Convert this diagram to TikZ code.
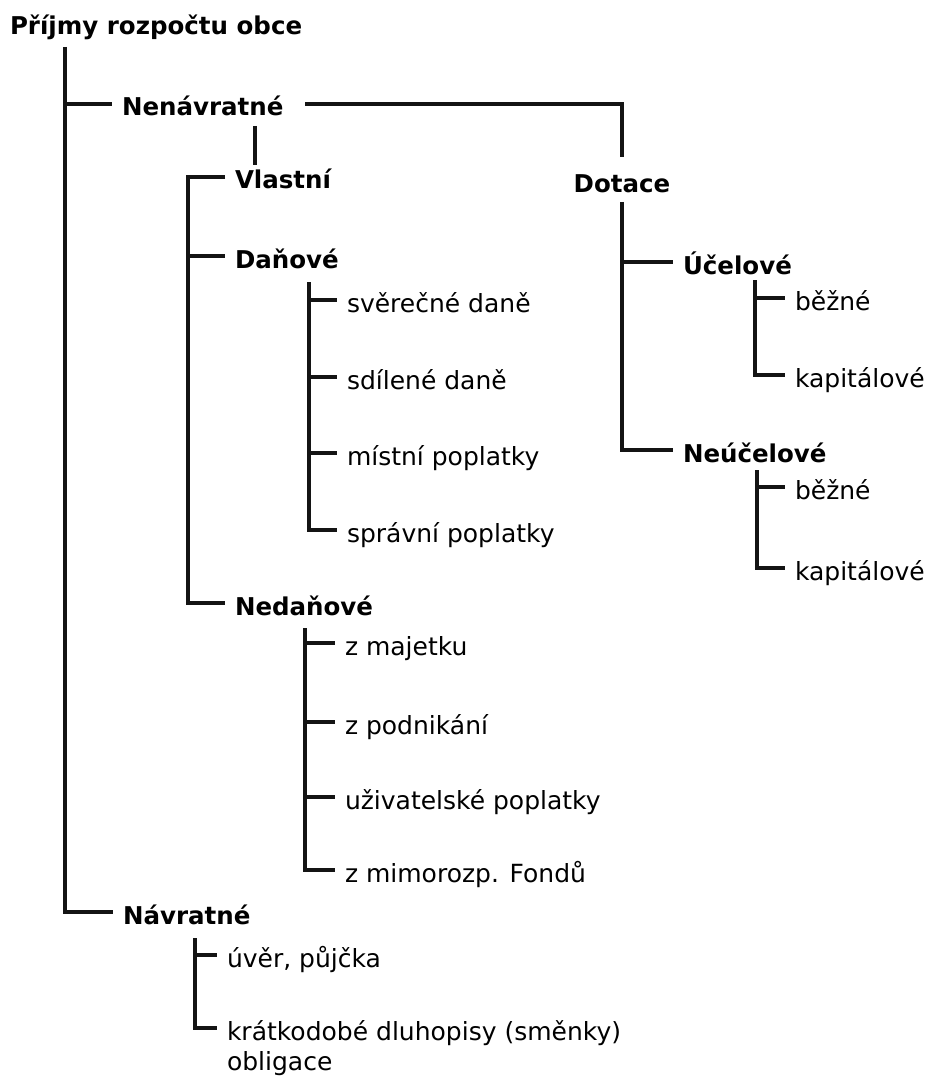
\documentclass[tikz,border=0pt]{standalone}
\usepackage{fontspec}
\setmainfont{DejaVu Sans}
\begin{document}
\begin{tikzpicture}[x=1pt,y=-1pt,
  lbl/.style={anchor=base west, inner sep=0pt, outer sep=0pt, text height=24pt, text depth=0pt,
              font=\fontsize{25}{28}\selectfont, text=black},
  hd/.style={lbl, font=\fontsize{24.5}{28}\selectfont\bfseries},
  conn/.style={line width=3.2pt, draw=black!92, line join=miter}]
\useasboundingbox (0,0) rectangle (925,1083);
% nodes
\node[hd] (title) at (10,35) {Příjmy rozpočtu obce};
\node[hd] (nen) at (122,116) {Nenávratné};
\node[hd] (nav) at (123,924) {Návratné};
\node[hd, anchor=base] (dot) at (622,193) {Dotace};
\node[hd] (vla) at (235,189) {Vlastní};
\node[hd] (dan) at (235,268) {Daňové};
\node[hd] (ned) at (235,615) {Nedaňové};
\node[hd] (uce) at (683,274) {Účelové};
\node[hd] (neu) at (683,462) {Neúčelové};
% Daňové children
\node[lbl] (d1) at (347,312) {svěrečné daně};
\node[lbl] (d2) at (347,389) {sdílené daně};
\node[lbl] (d3) at (347,465) {místní poplatky};
\node[lbl] (d4) at (347,542) {správní poplatky};
% Nedaňové children
\node[lbl] (n1) at (345,655) {z majetku};
\node[lbl] (n2) at (345,734) {z podnikání};
\node[lbl] (n3) at (345,809) {uživatelské poplatky};
\node[lbl] (n4) at (345,882) {z mimorozp. Fondů};
% Účelové children
\node[lbl] (u1) at (795,310) {běžné};
\node[lbl] (u2) at (795,387) {kapitálové};
% Neúčelové children
\node[lbl] (e1) at (795,499) {běžné};
\node[lbl] (e2) at (795,580) {kapitálové};
% Návratné children
\node[lbl] (v1) at (227,967) {úvěr, půjčka};
\node[lbl] (v2) at (227,1040) {krátkodobé dluhopisy (směnky)};
\node[lbl] (v3) at (227,1070) {obligace};
% coordinates for vertical trunks
\coordinate (tx) at (65,47);
\coordinate (vx) at (255,126);
\coordinate (lx) at (188,400);
\coordinate (dx) at (309,282);
\coordinate (nx) at (305,628);
\coordinate (ax) at (195,938);
\coordinate (ux) at (755,280);
\coordinate (ex) at (757,470);
% connectors
\draw[conn] (tx) |- ([xshift=-10pt]nav.west);
\draw[conn] (tx |- nen.west) -- ([xshift=-10pt]nen.west);
\draw[conn] ([xshift=22pt]nen.east) -| ([yshift=12pt]dot.north);
\draw[conn] (vx) -- (vx |- vla.north);
\draw[conn] ([xshift=-10pt]vla.west) -| (lx) |- ([xshift=-10pt]ned.west);
\draw[conn] (lx |- dan.west) -- ([xshift=-10pt]dan.west);
\draw[conn] (dx) |- ([xshift=-10pt]d4.west);
\draw[conn] (dx |- d1.west) -- ([xshift=-10pt]d1.west);
\draw[conn] (dx |- d2.west) -- ([xshift=-10pt]d2.west);
\draw[conn] (dx |- d3.west) -- ([xshift=-10pt]d3.west);
\draw[conn] (nx) |- ([xshift=-10pt]n4.west);
\draw[conn] (nx |- n1.west) -- ([xshift=-10pt]n1.west);
\draw[conn] (nx |- n2.west) -- ([xshift=-10pt]n2.west);
\draw[conn] (nx |- n3.west) -- ([xshift=-10pt]n3.west);
\draw[conn] (ax) |- ([xshift=-10pt]v2.west);
\draw[conn] (ax |- v1.west) -- ([xshift=-10pt]v1.west);
\draw[conn] ([yshift=-9pt]dot.south) |- ([xshift=-10pt]neu.west);
\draw[conn] (dot.south |- uce.west) -- ([xshift=-10pt]uce.west);
\draw[conn] (ux) |- ([xshift=-10pt]u2.west);
\draw[conn] (ux |- u1.west) -- ([xshift=-10pt]u1.west);
\draw[conn] (ex) |- ([xshift=-10pt]e2.west);
\draw[conn] (ex |- e1.west) -- ([xshift=-10pt]e1.west);
\end{tikzpicture}
\end{document}
